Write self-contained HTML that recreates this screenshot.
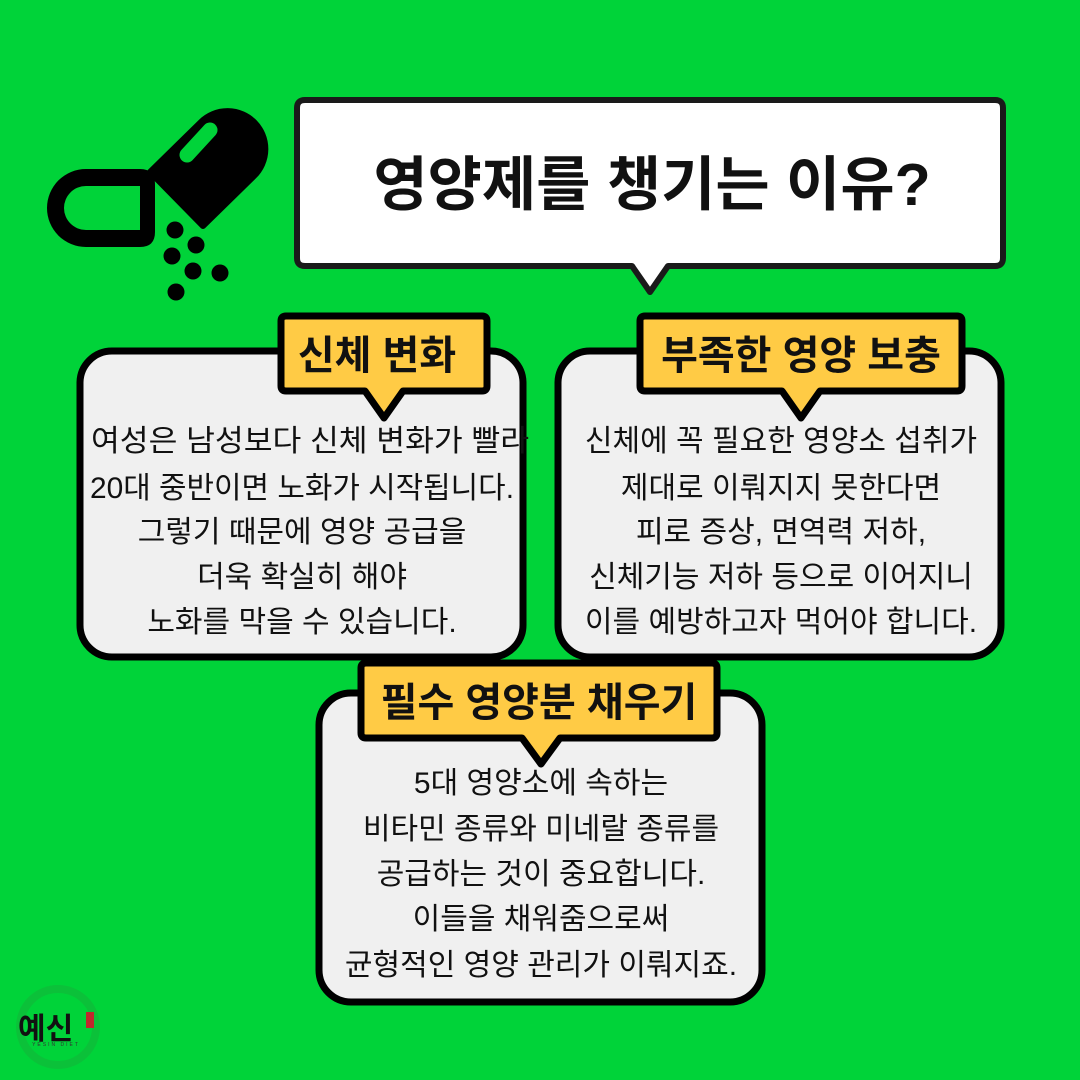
<!DOCTYPE html>
<html><head><meta charset="utf-8"><style>
html,body{margin:0;padding:0;background:#00d339;}
svg{display:block}
text{font-family:"Liberation Sans","Noto Sans CJK KR",sans-serif;}
</style></head><body>
<svg width="1080" height="1080" viewBox="0 0 1080 1080" xmlns="http://www.w3.org/2000/svg">
<rect width="1080" height="1080" fill="#00d339"/>
<!-- pill -->
<path d="M140 169 H86 A39 39 0 0 0 86 247 H140 Q155 247 155 232 V184 Q155 169 140 169 Z M140 186 V230 H86 A22 22 0 0 1 86 186 Z" fill="#000" fill-rule="evenodd"/>
<path d="M150 172 L201 122 A37.5 37.5 0 0 1 254 176 L203 226 Z" fill="#000" stroke="#000" stroke-width="6" stroke-linejoin="round"/>
<line x1="210" y1="130" x2="187" y2="155" stroke="#00d339" stroke-width="15" stroke-linecap="round"/>
<g fill="#000"><circle cx="175" cy="230" r="8.5"/><circle cx="196" cy="245" r="8.5"/><circle cx="172" cy="256" r="8.5"/><circle cx="193" cy="271" r="8.5"/><circle cx="220" cy="273" r="8.5"/><circle cx="176" cy="292" r="8.5"/></g>
<!-- title -->
<path d="M305 100 H995 Q1003 100 1003 108 V258 Q1003 266 995 266 H668 L650 292 L632 266 H305 Q297 266 297 258 V108 Q297 100 305 100 Z" fill="#fff" stroke="#1a1a1a" stroke-width="6" stroke-linejoin="round"/>
<text x="652" y="205" font-size="59" font-weight="bold" text-anchor="middle" fill="#111">영양제를 챙기는 이유?</text>
<!-- bubbles -->
<rect x="80" y="351" width="443" height="306" rx="32" fill="#f0f0f0" stroke="#000" stroke-width="7"/>
<rect x="558" y="351" width="443" height="306" rx="32" fill="#f0f0f0" stroke="#000" stroke-width="7"/>
<rect x="319" y="693" width="443" height="309" rx="32" fill="#f0f0f0" stroke="#000" stroke-width="7"/>
<!-- labels -->
<g fill="#ffcb45" stroke="#000" stroke-width="7" stroke-linejoin="round">
<path d="M286 316 H482 Q487 316 487 321 V386 Q487 391 482 391 H403 L384 418 L365 391 H286 Q281 391 281 386 V321 Q281 316 286 316 Z"/>
<path d="M645 316 H957 Q962 316 962 321 V386 Q962 391 957 391 H820 L801 418 L782 391 H645 Q640 391 640 386 V321 Q640 316 645 316 Z"/>
<path d="M366 663 H712 Q717 663 717 668 V733 Q717 738 712 738 H560 L541 764 L522 738 H366 Q361 738 361 733 V668 Q361 663 366 663 Z"/>
</g>
<g font-size="40" font-weight="bold" text-anchor="middle" fill="#111">
<text x="377" y="369">신체 변화</text>
<text x="801" y="369">부족한 영양 보충</text>
<text x="539" y="716">필수 영양분 채우기</text>
</g>
<g font-size="30" text-anchor="middle" fill="#111">
<text x="310" y="451" textLength="438" lengthAdjust="spacingAndGlyphs">여성은 남성보다 신체 변화가 빨라</text>
<text x="302" y="498" textLength="424" lengthAdjust="spacingAndGlyphs">20대 중반이면 노화가 시작됩니다.</text>
<text x="302" y="542">그렇기 때문에 영양 공급을</text>
<text x="302" y="587">더욱 확실히 해야</text>
<text x="302" y="632">노화를 막을 수 있습니다.</text>
<text x="781" y="451">신체에 꼭 필요한 영양소 섭취가</text>
<text x="781" y="498">제대로 이뤄지지 못한다면</text>
<text x="781" y="542">피로 증상, 면역력 저하,</text>
<text x="781" y="587">신체기능 저하 등으로 이어지니</text>
<text x="781" y="632">이를 예방하고자 먹어야 합니다.</text>
<text x="541" y="793">5대 영양소에 속하는</text>
<text x="541" y="839">비타민 종류와 미네랄 종류를</text>
<text x="541" y="884">공급하는 것이 중요합니다.</text>
<text x="541" y="929">이들을 채워줌으로써</text>
<text x="541" y="975">균형적인 영양 관리가 이뤄지죠.</text>
</g>
<!-- logo -->
<circle cx="58" cy="1027" r="38" fill="none" stroke="#12b53a" stroke-width="8" opacity="0.6"/>
<text x="18" y="1039" font-size="30" font-weight="bold" fill="#111">예신</text>
<rect x="86" y="1012" width="8" height="16" fill="#c0282d"/>
<text x="56" y="1046" font-size="5" text-anchor="middle" fill="#333" letter-spacing="2">YESIN DIET</text>
</svg>
</body></html>
